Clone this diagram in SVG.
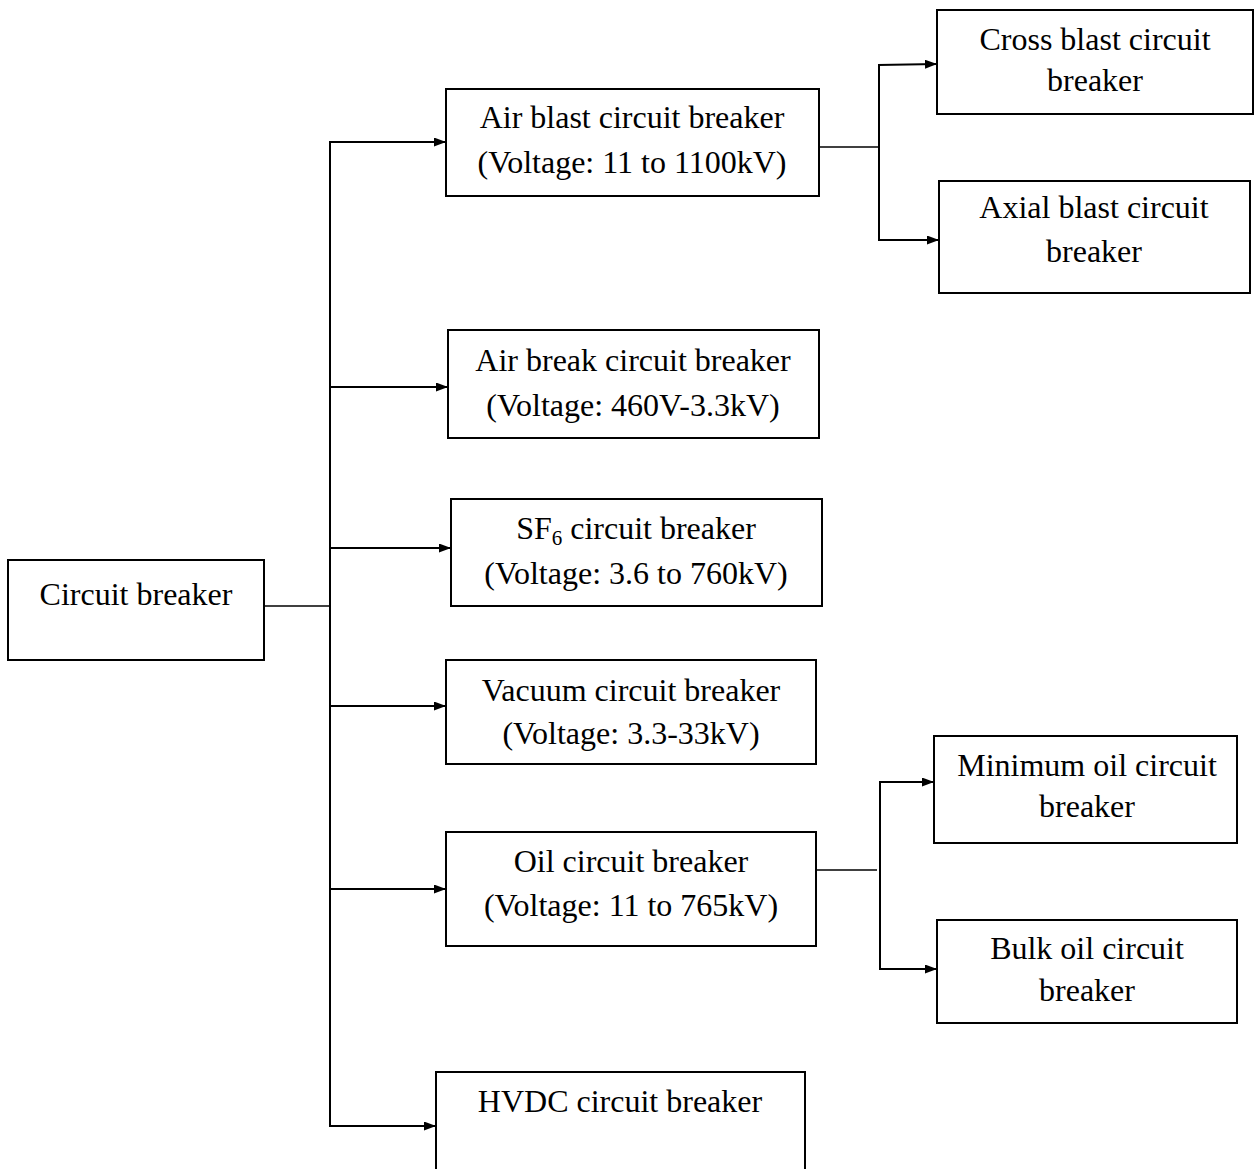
<svg xmlns="http://www.w3.org/2000/svg" width="1255" height="1169" viewBox="0 0 1255 1169">
<style>
.box{fill:#fff;stroke:#000;stroke-width:2}
.t{font-family:"Liberation Serif","Times New Roman",serif;font-size:32px;fill:#000;text-anchor:middle}
.c{fill:none;stroke:#000;stroke-width:2}
.thin{fill:none;stroke:#000;stroke-width:1.5}
</style>
<defs>
<marker id="ah" viewBox="0 0 12 9" refX="12" refY="4.5" markerWidth="12" markerHeight="9" markerUnits="userSpaceOnUse" orient="auto">
<path d="M0,0 L12,4.5 L0,9 Z" fill="#000"/>
</marker>
</defs>
<rect width="1255" height="1169" fill="#fff"/>
<g id="connectors">
<line class="thin" x1="264" y1="606" x2="330" y2="606"/>
<line class="c" x1="330" y1="141" x2="330" y2="1127"/>
<line class="c" x1="329" y1="142" x2="446" y2="142" marker-end="url(#ah)"/>
<line class="c" x1="329" y1="387" x2="448" y2="387" marker-end="url(#ah)"/>
<line class="c" x1="329" y1="548" x2="451" y2="548" marker-end="url(#ah)"/>
<line class="c" x1="329" y1="706" x2="446" y2="706" marker-end="url(#ah)"/>
<line class="c" x1="329" y1="889" x2="446" y2="889" marker-end="url(#ah)"/>
<line class="c" x1="329" y1="1126" x2="436" y2="1126" marker-end="url(#ah)"/>
<line class="thin" x1="819" y1="147" x2="879" y2="147"/>
<line class="c" x1="879" y1="64" x2="879" y2="241"/>
<line class="c" x1="878" y1="65" x2="937" y2="64" marker-end="url(#ah)"/>
<line class="c" x1="878" y1="240" x2="939" y2="240" marker-end="url(#ah)"/>
<line class="thin" x1="816" y1="870" x2="877" y2="870"/>
<line class="c" x1="880" y1="781" x2="880" y2="970"/>
<line class="c" x1="879" y1="782" x2="934" y2="782" marker-end="url(#ah)"/>
<line class="c" x1="879" y1="969" x2="937" y2="969" marker-end="url(#ah)"/>
</g>
<g id="root">
<rect class="box" x="8" y="560" width="256" height="100"/>
<text class="t" x="136" y="605">Circuit breaker</text>
</g>
<g id="air-blast">
<rect class="box" x="446" y="89" width="373" height="107"/>
<text class="t" x="632" y="128">Air blast circuit breaker</text>
<text class="t" x="632" y="173">(Voltage: 11 to 1100kV)</text>
</g>
<g id="air-break">
<rect class="box" x="448" y="330" width="371" height="108"/>
<text class="t" x="633" y="371">Air break circuit breaker</text>
<text class="t" x="633" y="416">(Voltage: 460V-3.3kV)</text>
</g>
<g id="sf6">
<rect class="box" x="451" y="499" width="371" height="107"/>
<text class="t" x="636" y="539">SF<tspan font-size="21" dy="6">6</tspan><tspan dy="-6"> circuit breaker</tspan></text>
<text class="t" x="636" y="584">(Voltage: 3.6 to 760kV)</text>
</g>
<g id="vacuum">
<rect class="box" x="446" y="660" width="370" height="104"/>
<text class="t" x="631" y="701">Vacuum circuit breaker</text>
<text class="t" x="631" y="744">(Voltage: 3.3-33kV)</text>
</g>
<g id="oil">
<rect class="box" x="446" y="832" width="370" height="114"/>
<text class="t" x="631" y="872">Oil circuit breaker</text>
<text class="t" x="631" y="916">(Voltage: 11 to 765kV)</text>
</g>
<g id="hvdc">
<rect class="box" x="436" y="1072" width="369" height="110"/>
<text class="t" x="620" y="1112">HVDC circuit breaker</text>
</g>
<g id="cross-blast">
<rect class="box" x="937" y="10" width="316" height="104"/>
<text class="t" x="1095" y="50">Cross blast circuit</text>
<text class="t" x="1095" y="91">breaker</text>
</g>
<g id="axial-blast">
<rect class="box" x="939" y="181" width="311" height="112"/>
<text class="t" x="1094" y="218">Axial blast circuit</text>
<text class="t" x="1094" y="262">breaker</text>
</g>
<g id="minimum-oil">
<rect class="box" x="934" y="736" width="303" height="107"/>
<text class="t" x="1087" y="776">Minimum oil circuit</text>
<text class="t" x="1087" y="817">breaker</text>
</g>
<g id="bulk-oil">
<rect class="box" x="937" y="920" width="300" height="103"/>
<text class="t" x="1087" y="959">Bulk oil circuit</text>
<text class="t" x="1087" y="1001">breaker</text>
</g>
</svg>
